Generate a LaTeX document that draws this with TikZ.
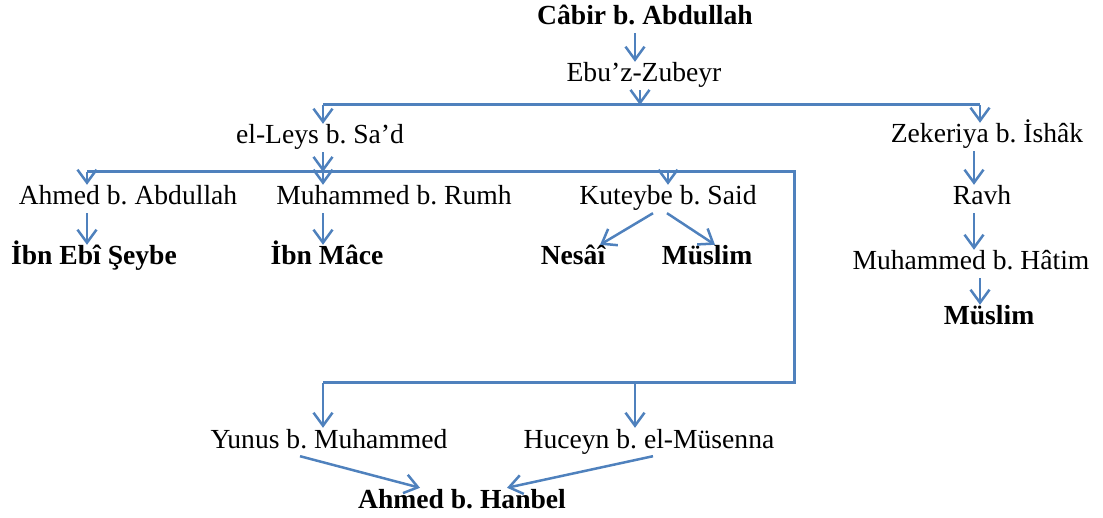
\documentclass[tikz,border=0pt]{standalone}
\usepackage{fontspec}
\setmainfont{Liberation Serif}
\usetikzlibrary{arrows.meta}
\definecolor{linkblue}{RGB}{79,129,189}
\frenchspacing
\tikzset{
  ravi/.style={anchor=base, inner sep=2pt, text height=18pt, text depth=6pt, font=\fontsize{27.6pt}{33pt}\selectfont},
  imam/.style={ravi, font=\fontsize{27.6pt}{33pt}\selectfont\bfseries},
  bus/.style={draw=linkblue, line width=3pt, line join=miter},
  link/.style={draw=linkblue, line width=2.5pt, -{Straight Barb[length=13pt,width=19pt]}}
}
\begin{document}
\begin{tikzpicture}[x=1pt, y=-1pt]
  \useasboundingbox (0,0) rectangle (1103,518);
  \node[imam] (cabir) at (645,25) {Câbir b. Abdullah};
  \node[ravi] (ebu) at (644,82) {Ebu’z-Zubeyr};
  \node[ravi] (leys) at (320,144) {el-Leys b. Sa’d};
  \node[ravi] (zek) at (987,143) {Zekeriya b. İshâk};
  \node[ravi] (ahmed) at (128,205) {Ahmed b. Abdullah};
  \node[ravi] (rumh) at (394,205) {Muhammed b. Rumh};
  \node[ravi] (kut) at (668,205) {Kuteybe b. Said};
  \node[ravi] (ravh) at (982,205) {Ravh};
  \node[imam] (ebiseybe) at (94,265) {İbn Ebî Şeybe};
  \node[imam] (mace) at (327,265) {İbn Mâce};
  \node[imam] (nesai) at (573,265) {Nesâî};
  \node[imam] (muslima) at (707,265) {Müslim};
  \node[ravi] (hatim) at (971,270) {Muhammed b. Hâtim};
  \node[imam] (muslimb) at (989,325) {Müslim};
  \node[ravi] (yunus) at (329,448) {Yunus b. Muhammed};
  \node[ravi] (huceyn) at (649,448) {Huceyn b. el-Müsenna};
  \node[imam] (hanbel) at (462,508) {Ahmed b. Hanbel};
  % junctions of the bus lines
  \coordinate (c0) at (635,0);
  \coordinate (c3) at (974,0);
  \coordinate (b1l) at (323,105);
  \coordinate (b1m) at (640,105);
  \coordinate (b1r) at (980,105);
  \coordinate (b2l) at (87,172);
  \coordinate (b2m) at (323,172);
  \coordinate (b2k) at (668,172);
  \coordinate (b2r) at (794,172);
  \coordinate (b3l) at (323,383);
  \coordinate (b3m) at (635,383);
  \coordinate (b3r) at (794,383);
  % top of the chain
  \draw[link] (cabir.south -| c0) -- (ebu.north -| c0);
  \draw[bus] (b1l) -- (b1r);
  \draw[link] (ebu.south -| b1m) -- (b1m);
  \draw[link] (b1l) -- (b1l |- leys.north);
  \draw[link] (b1r) -- (b1r |- zek.north);
  % el-Leys branch
  \draw[bus] (b2l) -- (b2r) -- (b3r) -- (b3l);
  \draw[link] (leys.south -| b2m) -- (b2m);
  \draw[link] (b2l) -- (b2l |- ahmed.north);
  \draw[link] (b2m) -- (b2m |- rumh.north);
  \draw[link] (b2k) -- (b2k |- kut.north);
  \draw[link] (ahmed.south -| b2l) -- (ebiseybe.north -| b2l);
  \draw[link] (rumh.south -| b2m) -- (mace.north -| b2m);
  \draw[link] ([xshift=-15pt]kut.south) -- ([xshift=27pt]nesai.north);
  \draw[link] ([xshift=-1pt]kut.south) -- ([xshift=8pt]muslima.north);
  \draw[link] (b3l) -- (b3l |- yunus.north);
  \draw[link] (b3m) -- (b3m |- huceyn.north);
  \draw[link] ([xshift=-29pt]yunus.south) -- ([xshift=-42pt]hanbel.north);
  \draw[link] ([xshift=4pt]huceyn.south) -- ([xshift=45pt]hanbel.north);
  % Zekeriya branch
  \draw[link] (zek.south -| c3) -- (ravh.north -| c3);
  \draw[link] (ravh.south -| c3) -- (hatim.north -| c3);
  \draw[link] (hatim.south -| b1r) -- (muslimb.north -| b1r);
\end{tikzpicture}
\end{document}
